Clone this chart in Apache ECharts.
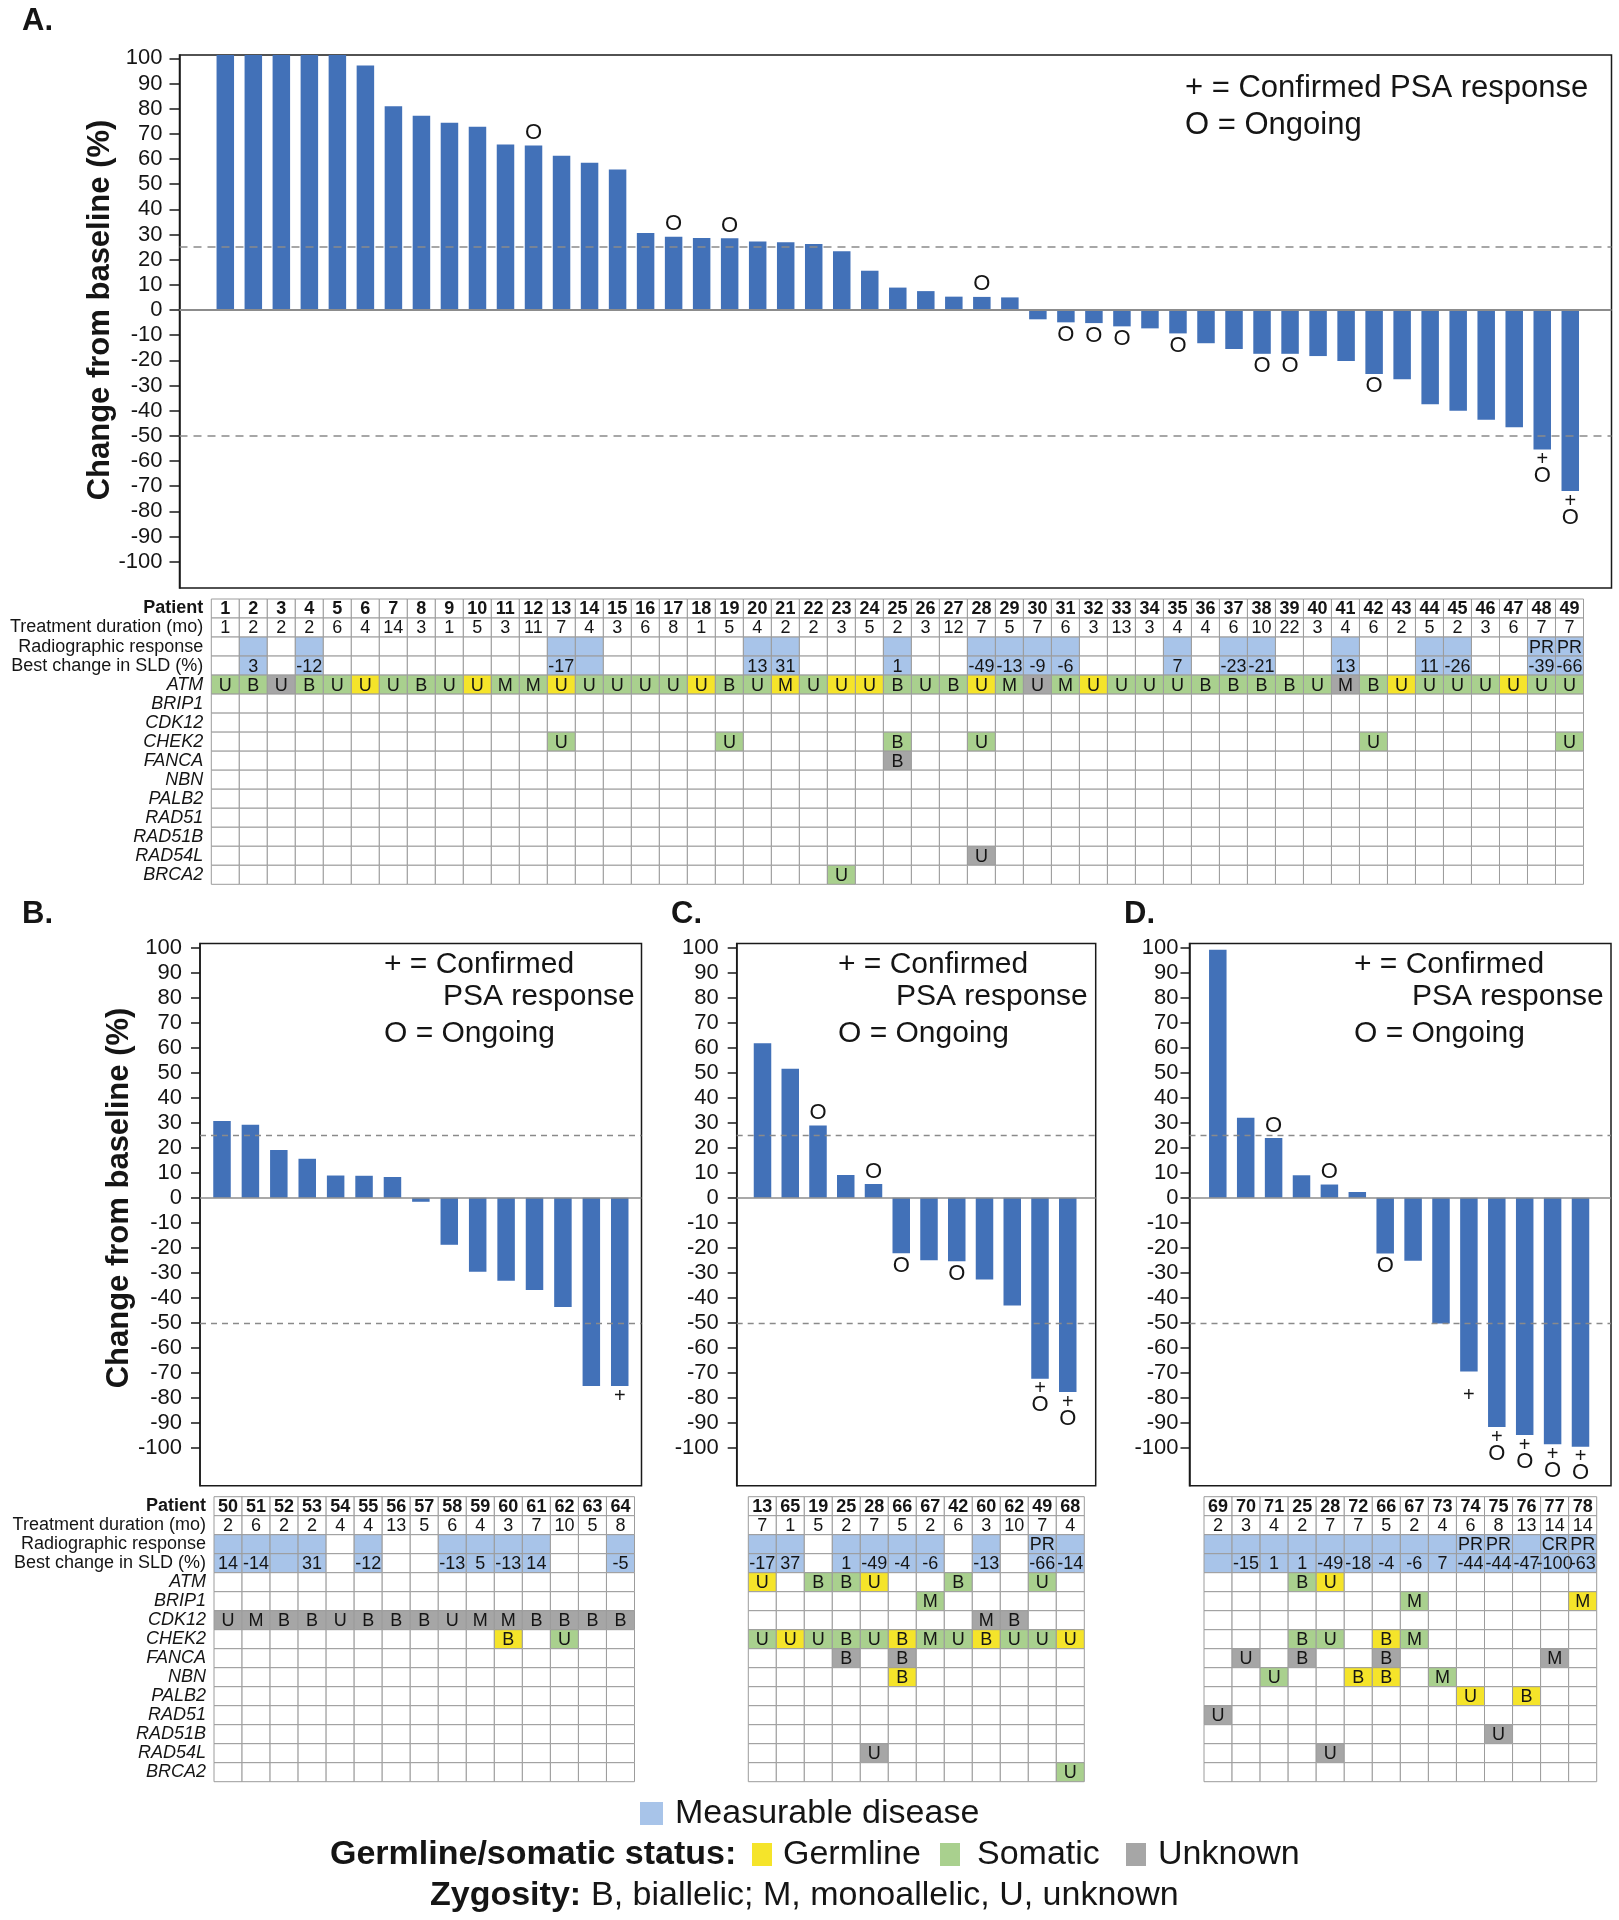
<!DOCTYPE html>
<html><head><meta charset="utf-8">
<script src="https://cdn.jsdelivr.net/npm/echarts@6/dist/echarts.min.js"></script>
<style>html,body{margin:0;padding:0;background:#fff}#c{width:1619px;height:1920px}</style>
</head><body><div id="c"></div>
<script>
// ---------------- DATA ----------------
const rowLabels = ['Patient','Treatment duration (mo)','Radiographic response','Best change in SLD (%)',
  'ATM','BRIP1','CDK12','CHEK2','FANCA','NBN','PALB2','RAD51','RAD51B','RAD54L','BRCA2'];
const genes = rowLabels.slice(4);
const yTicks = [100,90,80,70,60,50,40,30,20,10,0,-10,-20,-30,-40,-50,-60,-70,-80,-90,-100];

// Panel A
const patientsA = [1,2,3,4,5,6,7,8,9,10,11,12,13,14,15,16,17,18,19,20,21,22,23,24,25,26,27,28,29,30,31,32,33,34,35,36,37,38,39,40,41,42,43,44,45,46,47,48,49];
const changeA = [102,102,102,102,102,97.1,80.9,77.2,74.4,72.8,65.7,65.3,61.3,58.5,55.8,30.6,29.1,28.6,28.5,27.2,26.9,26.2,23.3,15.6,8.9,7.5,5.3,5.2,5.0,-3.7,-4.9,-5.2,-6.5,-7.3,-9.3,-13.2,-15.5,-17.4,-17.4,-18.3,-20.3,-25.4,-27.5,-37.4,-40,-43.6,-46.6,-55.4,-71.9];
const markA = [[12,'O'],[17,'O'],[19,'O'],[28,'O'],[31,'O'],[32,'O'],[33,'O'],[35,'O'],[38,'O'],[39,'O'],[42,'O'],[48,'+O'],[49,'+O']];
const durationA = [1,2,2,2,6,4,14,3,1,5,3,11,7,4,3,6,8,1,5,4,2,2,3,5,2,3,12,7,5,7,6,3,13,3,4,4,6,10,22,3,4,6,2,5,2,3,6,7,7];
const measA = [2,4,13,14,20,21,25,28,29,30,31,35,37,38,41,44,45,48,49];
const respA = [[48,'PR'],[49,'PR']];
const sldA = [[2,3],[4,-12],[13,-17],[20,13],[21,31],[25,1],[28,-49],[29,-13],[30,-9],[31,-6],[35,7],[37,-23],[38,-21],[41,13],[44,11],[45,-26],[48,-39],[49,-66]];
const atmZygA = ['U','B','U','B','U','U','U','B','U','U','M','M','U','U','U','U','U','U','B','U','M','U','U','U','B','U','B','U','M','U','M','U','U','U','U','B','B','B','B','U','M','B','U','U','U','U','U','U','U'];
const atmStatA = ['S','S','U','S','S','G','S','S','S','G','S','S','G','S','S','S','S','G','S','S','G','S','G','G','S','S','S','G','S','U','S','G','S','S','S','S','S','S','S','S','U','S','G','S','S','S','G','S','S'];
const otherMutA = [['CHEK2',13,'U','S'],['CHEK2',19,'U','S'],['CHEK2',25,'B','S'],['CHEK2',28,'U','S'],['CHEK2',42,'U','S'],['CHEK2',49,'U','S'],
  ['FANCA',25,'B','U'],['RAD54L',28,'U','U'],['BRCA2',23,'U','S']];

// Panel B
const patientsB = [50,51,52,53,54,55,56,57,58,59,60,61,62,63,64];
const changeB = [30.7,29.2,19.1,15.6,8.9,8.8,8.3,-1.6,-18.8,-29.6,-33.2,-36.9,-43.7,-75.3,-75.3];
const markB = [[64,'+']];
const durationB = [2,6,2,2,4,4,13,5,6,4,3,7,10,5,8];
const measB = [50,51,52,53,55,58,59,60,61,64];
const respB = [];
const sldB = [[50,14],[51,-14],[53,31],[55,-12],[58,-13],[59,5],[60,-13],[61,14],[64,-5]];
const mutB = [['CDK12',50,'U','U'],['CDK12',51,'M','U'],['CDK12',52,'B','U'],['CDK12',53,'B','U'],['CDK12',54,'U','U'],
  ['CDK12',55,'B','U'],['CDK12',56,'B','U'],['CDK12',57,'B','U'],['CDK12',58,'U','U'],['CDK12',59,'M','U'],['CDK12',60,'M','U'],
  ['CDK12',61,'B','U'],['CDK12',62,'B','U'],['CDK12',63,'B','U'],['CDK12',64,'B','U'],
  ['CHEK2',60,'B','G'],['CHEK2',62,'U','S']];

// Panel C
const patientsC = [13,65,19,25,28,66,67,42,60,62,49,68];
const changeC = [61.8,51.6,28.9,9.1,5.5,-22.2,-25,-25.4,-32.7,-43.1,-72.4,-77.7];
const markC = [[19,'O'],[28,'O'],[66,'O'],[42,'O'],[49,'+O'],[68,'+O']];
const durationC = [7,1,5,2,7,5,2,6,3,10,7,4];
const measC = [13,65,25,28,66,67,60,49,68];
const respC = [[49,'PR']];
const sldC = [[13,-17],[65,37],[25,1],[28,-49],[66,-4],[67,-6],[60,-13],[49,-66],[68,-14]];
const mutC = [['ATM',13,'U','G'],['ATM',19,'B','S'],['ATM',25,'B','S'],['ATM',28,'U','G'],['ATM',42,'B','S'],['ATM',49,'U','S'],
  ['BRIP1',67,'M','S'],['CDK12',60,'M','U'],['CDK12',62,'B','U'],
  ['CHEK2',13,'U','S'],['CHEK2',65,'U','G'],['CHEK2',19,'U','S'],['CHEK2',25,'B','S'],['CHEK2',28,'U','S'],['CHEK2',66,'B','G'],
  ['CHEK2',67,'M','S'],['CHEK2',42,'U','S'],['CHEK2',60,'B','G'],['CHEK2',62,'U','S'],['CHEK2',49,'U','S'],['CHEK2',68,'U','G'],
  ['FANCA',25,'B','U'],['FANCA',66,'B','U'],['NBN',66,'B','G'],['RAD54L',28,'U','U'],['BRCA2',68,'U','S']];

// Panel D
const patientsD = [69,70,71,25,28,72,66,67,73,74,75,76,77,78];
const changeD = [99.2,32,23.9,9.0,5.3,2.3,-22.3,-25.2,-50.3,-69.5,-91.7,-94.9,-98.6,-99.6];
const markD = [[71,'O'],[28,'O'],[66,'O'],[74,'+low'],[75,'+O'],[76,'+O'],[77,'+O'],[78,'+O']];
const durationD = [2,3,4,2,7,7,5,2,4,6,8,13,14,14];
const measD = [69,70,71,25,28,72,66,67,73,74,75,76,77,78];
const respD = [[74,'PR'],[75,'PR'],[77,'CR'],[78,'PR']];
const sldD = [[70,-15],[71,1],[25,1],[28,-49],[72,-18],[66,-4],[67,-6],[73,7],[74,-44],[75,-44],[76,-47],[77,-100],[78,-63]];
const mutD = [['ATM',25,'B','S'],['ATM',28,'U','G'],['BRIP1',67,'M','S'],['BRIP1',78,'M','G'],
  ['CHEK2',25,'B','S'],['CHEK2',28,'U','S'],['CHEK2',66,'B','G'],['CHEK2',67,'M','S'],
  ['FANCA',70,'U','U'],['FANCA',25,'B','U'],['FANCA',66,'B','U'],['FANCA',77,'M','U'],
  ['NBN',71,'U','S'],['NBN',72,'B','G'],['NBN',66,'B','G'],['NBN',73,'M','S'],
  ['PALB2',74,'U','G'],['PALB2',76,'B','G'],['RAD51',69,'U','U'],['RAD51B',75,'U','U'],['RAD54L',28,'U','U']];

// ---------------- STYLE / LAYOUT ----------------
const FONT = '"Liberation Sans", Arial, Helvetica, sans-serif';
const INK = '#151515';
const BAR = '#4271b8';
const C_MEAS = '#a8c4e9';
const STATUS_COLOR = {G:'#f5e42a', S:'#a9d08e', U:'#a6a6a6'};

const mutA = patientsA.map((p,i)=>['ATM',p,atmZygA[i],atmStatA[i]]).concat(otherMutA);

const panels = [
  {patients:patientsA, change:changeA, marks:markA, dur:durationA, meas:measA, resp:respA, sld:sldA, muts:mutA,
   box:{l:179.5,r:1611.5,t:55,b:587.9}, yMin:-110.4, yMax:101.3, first:225.3, step:28.02,
   table:{l:211.3,r:1583.5,t:599,b:884.3}, showRows:true, lblMargin:17, tickLen:10, zeroW:2, dashW:1.6, dash:[8,6]},
  {patients:patientsB, change:changeB, marks:markB, dur:durationB, meas:measB, resp:respB, sld:sldB, muts:mutB,
   box:{l:200,r:641.5,t:943.5,b:1485.8}, yMin:-115.2, yMax:101.7, first:222, step:28.41,
   table:{l:214,r:634.5,t:1496.7,b:1781.7}, showRows:true, lblMargin:18, tickLen:9, zeroW:1.5, dashW:1.3, dash:[6,5]},
  {patients:patientsC, change:changeC, marks:markC, dur:durationC, meas:measC, resp:respC, sld:sldC, muts:mutC,
   box:{l:736.7,r:1095.7,t:943.5,b:1485.8}, yMin:-115.2, yMax:101.7, first:762.5, step:27.75,
   table:{l:748.3,r:1084.3,t:1496.7,b:1781.7}, showRows:false, lblMargin:18, tickLen:9, zeroW:1.5, dashW:1.3, dash:[6,5]},
  {patients:patientsD, change:changeD, marks:markD, dur:durationD, meas:measD, resp:respD, sld:sldD, muts:mutD,
   box:{l:1189.5,r:1611,t:943.5,b:1485.8}, yMin:-115.2, yMax:101.7, first:1217.8, step:27.9,
   table:{l:1204,r:1596.7,t:1496.7,b:1781.7}, showRows:false, lblMargin:11, tickLen:9, zeroW:1.5, dashW:1.3, dash:[6,5]}
];

const MARK_TEXT = {'O':'{o|O}', '+O':'{p|+}\n{o|O}', '+':'{p|+}', '+low':'{g| }\n{p|+}'};
const markRich = {
  o:{fontSize:22, lineHeight:19, fontFamily:FONT, color:INK},
  p:{fontSize:20, lineHeight:14, fontFamily:FONT, color:INK},
  g:{fontSize:10, lineHeight:14, fontFamily:FONT, color:INK}
};

function buildCells(P){
  const idx = {}; P.patients.forEach((p,i)=>idx[p]=i);
  const g = [];
  for (let r=0;r<rowLabels.length;r++) g.push(P.patients.map(()=>({fill:'#ffffff', text:'', bold:false})));
  P.patients.forEach((p,i)=>{ g[0][i].text=String(p); g[0][i].bold=true; g[1][i].text=String(P.dur[i]); });
  P.meas.forEach(p=>{ g[2][idx[p]].fill=C_MEAS; g[3][idx[p]].fill=C_MEAS; });
  P.resp.forEach(([p,t])=>{ g[2][idx[p]].text=t; });
  P.sld.forEach(([p,v])=>{ g[3][idx[p]].text=String(v); });
  P.muts.forEach(([gene,p,z,s])=>{ const c=g[4+genes.indexOf(gene)][idx[p]]; c.fill=STATUS_COLOR[s]; c.text=z; });
  const cells=[];
  g.forEach((row,r)=>row.forEach((c,ci)=>cells.push(Object.assign({row:r,col:ci},c))));
  return cells;
}

const option = {animation:false, textStyle:{fontFamily:FONT}, grid:[], xAxis:[], yAxis:[], series:[], graphic:[]};

panels.forEach((P,k)=>{
  const n = P.patients.length;
  const bi = option.grid.length;
  option.grid.push({left:P.box.l, top:P.box.t, width:P.box.r-P.box.l, height:P.box.b-P.box.t,
    show:true, borderColor:'#1a1a1a', borderWidth:1.5, backgroundColor:'transparent'});
  const xmin = -(P.first-P.box.l)/P.step;
  const xmax = (n-1) + (P.box.r-(P.first+(n-1)*P.step))/P.step;
  option.xAxis.push({type:'value', gridIndex:bi, min:xmin, max:xmax, show:false});
  option.yAxis.push({type:'value', gridIndex:bi, min:P.yMin, max:P.yMax, position:'left',
    axisLine:{show:true, onZero:false, lineStyle:{color:'#1a1a1a', width:1.5}},
    axisTick:{show:true, inside:false, length:P.tickLen, customValues:yTicks, lineStyle:{color:'#1a1a1a', width:1.5}},
    axisLabel:{show:true, customValues:yTicks, fontSize:22, color:INK, margin:P.lblMargin, fontFamily:FONT},
    splitLine:{show:false}});
  const mk = {}; P.marks.forEach(([p,c])=>mk[p]=c);
  option.series.push({type:'bar', xAxisIndex:bi, yAxisIndex:bi, barWidth:17.5, clip:true,
    itemStyle:{color:BAR},
    data:P.change.map((v,i)=>{
      const code = mk[P.patients[i]];
      const item = {value:[i,v]};
      if (code) item.label = {show:true, position: v>=0?'top':'bottom', distance:3, formatter:MARK_TEXT[code], rich:markRich};
      return item;
    }),
    markLine:{silent:true, symbol:['none','none'], label:{show:false}, animation:false,
      data:[
        {yAxis:25, lineStyle:{type:P.dash, color:'#8a8a8a', width:P.dashW}},
        {yAxis:-50, lineStyle:{type:P.dash, color:'#8a8a8a', width:P.dashW}},
        {yAxis:0, lineStyle:{type:'solid', color:'#8c8c8c', width:P.zeroW}}
      ]}
  });

  const ti = option.grid.length;
  option.grid.push({left:P.table.l, top:P.table.t, width:P.table.r-P.table.l, height:P.table.b-P.table.t, show:false});
  option.xAxis.push({type:'value', gridIndex:ti, min:-0.5, max:n-0.5, show:false});
  option.yAxis.push({type:'category', gridIndex:ti, data:rowLabels, inverse:true,
    axisLine:{show:false}, axisTick:{show:false}, splitLine:{show:false},
    axisLabel:{show:P.showRows, interval:0, margin:8,
      formatter:(v)=> v==='Patient' ? '{b|Patient}' : (genes.indexOf(v)>=0 ? '{i|'+v+'}' : '{n|'+v+'}'),
      rich:{b:{fontWeight:'bold', fontSize:18, color:INK, fontFamily:FONT},
            i:{fontStyle:'italic', fontSize:18, color:INK, fontFamily:FONT},
            n:{fontSize:18, color:INK, fontFamily:FONT}}}});
  const cells = buildCells(P);
  option.series.push({type:'custom', xAxisIndex:ti, yAxisIndex:ti, clip:false,
    encode:{x:0, y:1},
    data:cells.map(c=>[c.col, c.row]),
    renderItem:function(params, api){
      const c = cells[params.dataIndex];
      const pt = api.coord([api.value(0), api.value(1)]);
      const sz = api.size([1,1]);
      return {type:'group', children:[
        {type:'rect', z2:1, shape:{x:pt[0]-sz[0]/2, y:pt[1]-sz[1]/2, width:sz[0], height:sz[1]},
          style:{fill:c.fill, stroke:'#9c9c9c', lineWidth:1}},
        {type:'text', z2:5, style:{text:c.text, x:pt[0], y:pt[1]+1, align:'center', verticalAlign:'middle',
          textAlign:'center', textVerticalAlign:'middle',
          fontSize:18, fontWeight:c.bold?'bold':'normal', fontFamily:FONT, fill:INK}}
      ]};
    }
  });
});

// ---------------- TEXT ELEMENTS ----------------
function txt(x, y, text, size, o){
  o = o || {};
  const al = o.align || 'left';
  return {type:'text', x:x, y:y, rotation:o.rot||0, silent:true, z:10,
    style:{text:text, fontSize:size, fontWeight:o.bold?'bold':'normal', fontStyle:o.italic?'italic':'normal',
      fontFamily:FONT, fill:INK, align:al, textAlign:al, verticalAlign:'middle', textVerticalAlign:'middle'}};
}
function box(x, y, w, h, color){
  return {type:'rect', silent:true, z:10, shape:{x:x, y:y, width:w, height:h}, style:{fill:color}};
}
const G = option.graphic;
G.push(txt(22,21,'A.',31,{bold:true}));
G.push(txt(22,914,'B.',31,{bold:true}));
G.push(txt(671,914,'C.',31,{bold:true}));
G.push(txt(1124,914,'D.',31,{bold:true}));
G.push(txt(100,310,'Change from baseline (%)',31,{bold:true, rot:Math.PI/2, align:'center'}));
G.push(txt(119,1198,'Change from baseline (%)',31,{bold:true, rot:Math.PI/2, align:'center'}));
G.push(txt(1185,88,'+ = Confirmed PSA response',31));
G.push(txt(1185,125,'O = Ongoing',31));
[[384,443],[838,896],[1354,1412]].forEach(([x1,x2])=>{
  G.push(txt(x1,965,'+ = Confirmed',30));
  G.push(txt(x2,997,'PSA response',30));
  G.push(txt(x1,1034,'O = Ongoing',30));
});
G.push(box(640,1802,23,23,C_MEAS));
G.push(txt(675,1814,'Measurable disease',34));
G.push(txt(330,1855,'Germline/somatic status:',34,{bold:true}));
G.push(box(752,1843,20,23,STATUS_COLOR.G));
G.push(txt(783,1855,'Germline',34));
G.push(box(940,1843,20,23,STATUS_COLOR.S));
G.push(txt(977,1855,'Somatic',34));
G.push(box(1126,1843,20,23,STATUS_COLOR.U));
G.push(txt(1158,1855,'Unknown',34));
G.push(txt(430,1896,'Zygosity:',34,{bold:true}));
G.push(txt(591,1896,'B, biallelic; M, monoallelic, U, unknown',34));

const chart = echarts.init(document.getElementById('c'), null, {renderer:'canvas', width:1619, height:1920});
chart.setOption(option);
</script></body></html>
